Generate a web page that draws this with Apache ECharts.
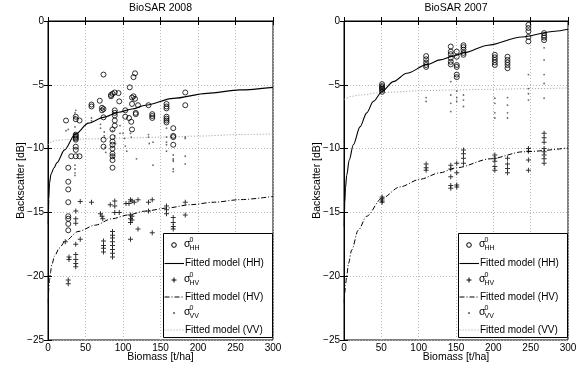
<!DOCTYPE html>
<html><head><meta charset="utf-8">
<script src="https://cdn.jsdelivr.net/npm/echarts@6/dist/echarts.min.js"></script>
<style>html,body{margin:0;padding:0;background:#fff}#c{width:585px;height:368px}</style>
</head><body><div id="c"></div>
<script>
const xTicks = [0, 50, 100, 150, 200, 250, 300];
const yTicks = [-25, -20, -15, -10, -5, 0];
const titles = ['BioSAR 2008', 'BioSAR 2007'];
const xName = 'Biomass [t/ha]';
const yName = 'Backscatter [dB]';
const fitLabels = ['Fitted model (HH)', 'Fitted model (HV)', 'Fitted model (VV)'];
const polSubs = ['HH', 'HV', 'VV'];

// ---- BioSAR 2008 ----
const hh2008 = [[24,-7.8],
 [27,-11.5],[27,-12.6],[27,-13.2],[27,-14.2],[27,-15.3],[27,-15.5],[27,-15.9],[27,-16.4],
 [31,-10.6],
 [37,-7.5],[37,-7.7],[37,-8.9],[37,-9.0],[37,-9.1],[37,-9.2],[37,-9.3],[37,-9.85],[37,-10.1],[37,-10.6],
 [42,-7.8],[42,-10.6],[58,-6.55],[58,-6.7],[69,-6.25],[72,-6.8],[72,-7.0],
 [74,-4.2],[74,-6.9],[74,-7.55],[74,-9.3],[74,-9.85],[84,-5.8],[84,-5.9],
 [86,-5.7],[86,-8.5],[86,-9.1],[86,-9.45],[86,-9.7],[86,-10.0],[86,-10.4],[86,-10.6],[86,-10.9],[86,-11.5],
 [89,-5.6],[89,-7.0],[89,-7.2],[89,-7.4],[89,-7.8],[89,-8.2],[94,-5.65],[95,-6.3],
 [103,-7.0],[103,-7.5],[108,-7.6],[109,-5.2],[112,-6.0],[112,-6.5],[111,-7.9],[112,-8.5],
 [114,-4.4],[114,-5.9],[116,-4.1],[116,-6.1],[117,-7.2],[117,-7.3],[120,-6.6],
 [134,-6.6],[139,-7.3],[139,-7.45],[139,-7.6],
 [158,-6.5],[158,-6.7],[158,-6.85],[158,-7.5],[158,-7.65],[158,-7.8],[158,-7.95],
 [167,-8.4],[167,-9.0],[167,-9.1],[167,-9.7],[183,-5.6],[183,-6.6]];
const hv2008 = [[23,-17.3],[28,-18.5],[28,-18.7],[27,-20.3],[27,-20.6],
 [37,-14.9],[37,-15.5],[37,-15.85],[37,-17.5],[37,-18.3],[37,-18.7],[37,-19.0],[37,-19.25],
 [43,-14.15],[43,-17.1],[58,-14.2],[70,-15.1],[72,-15.3],[73,-15.5],
 [74,-17.25],[74,-17.6],[74,-17.8],[74,-18.1],[83,-14.4],
 [86,-16.5],[86,-16.8],[86,-17.0],[86,-17.3],[86,-17.6],[86,-17.9],[86,-18.2],[86,-18.5],
 [89,-14.1],[89,-14.5],[89,-15.0],[95,-15.0],[104,-14.3],[108,-14.3],
 [110,-14.0],[110,-15.2],[110,-15.5],[110,-15.8],[110,-17.1],[112,-14.1],[112,-15.3],[112,-15.6],
 [115,-14.2],[120,-14.0],[120,-16.3],[134,-14.2],[134,-14.9],[139,-14.0],[139,-16.6],
 [158,-14.5],[158,-14.8],[158,-15.1],[167,-15.4],[167,-15.8],[167,-16.1],[167,-16.3],
 [183,-14.2],[183,-15.2]];
const vv2008 = [[24,-8.6],[27,-8.5],
 [36,-7.2],[36,-7.5],[36,-8.3],[36,-8.8],[36,-11.3],[36,-11.6],[36,-11.9],[36,-12.1],[37,-7.0],
 [58,-7.6],[58,-7.8],[70,-8.1],[70,-8.4],[75,-8.7],[75,-9.0],[76,-9.9],[77,-10.3],
 [86,-8.6],[86,-9.9],[86,-10.5],[87,-10.7],[89,-9.0],[90,-9.6],[96,-8.2],[96,-8.8],
 [100,-8.8],[102,-9.2],[103,-9.8],[105,-10.2],[110,-8.8],[111,-9.1],[118,-10.8],
 [134,-8.9],[134,-9.1],[135,-9.6],[140,-9.5],[140,-11.3],
 [158,-8.4],[158,-9.1],[158,-9.5],[158,-9.7],[158,-10.2],
 [167,-10.5],[167,-10.8],[167,-10.9],[167,-11.0],[167,-11.6],[167,-11.8],
 [183,-9.1],[183,-9.2],[183,-10.6],[183,-11.2]];
const fitHH2008 = [[0.4,-15.9],[1,-14.0],[2,-12.7],[4,-12.0],[8,-11.5],[12,-11.1],[22,-10.1],[36,-8.9],[54,-8.0],[74,-7.55],[94,-7.15],[112,-6.9],[130,-6.6],[167,-6.06],[212,-5.67],[256,-5.4],[300,-5.2]];
const fitHV2008 = [[0.4,-22.1],[1,-21.0],[2,-20.3],[3,-19.8],[5,-19.1],[9,-18.4],[15,-17.8],[23,-17.25],[40,-16.5],[63,-16.0],[85,-15.5],[107,-15.2],[129,-14.9],[160,-14.65],[189,-14.4],[222,-14.2],[256,-14.0],[300,-13.75]];
const fitVV2008 = [[0.4,-9.7],[2,-9.55],[5,-9.45],[10,-9.38],[23,-9.3],[50,-9.25],[100,-9.18],[150,-9.1],[200,-9.02],[256,-8.9],[300,-8.85]];

// ---- BioSAR 2007 ----
const hh2007 = [[51,-4.95],[51,-5.1],[51,-5.2],[51,-5.3],[51,-5.4],[51,-5.55],
 [110,-2.75],[110,-3.0],[110,-3.25],[110,-3.45],[110,-3.6],
 [143,-2.0],[143,-2.4],[143,-2.6],[143,-2.9],[143,-3.2],[143,-3.4],
 [151,-2.4],[151,-2.8],[151,-3.45],[151,-3.6],[151,-4.2],[151,-4.4],
 [160,-1.9],[160,-2.05],[160,-2.25],[160,-2.5],[160,-2.65],
 [202,-2.65],[202,-2.85],[202,-3.05],[202,-3.25],[202,-3.45],
 [219,-2.8],[219,-3.05],[219,-3.25],[219,-3.45],[219,-3.7],
 [247,-0.3],[247,-0.55],[247,-0.8],[247,-1.25],[247,-1.6],
 [268,-0.95],[268,-1.15],[268,-1.3],[268,-1.5]];
const hv2007 = [[51,-13.8],[51,-13.95],[51,-14.1],[51,-14.2],
 [110,-11.2],[110,-11.5],[110,-11.7],
 [143,-11.3],[143,-11.6],[143,-12.2],[143,-12.9],[143,-13.1],
 [151,-11.15],[151,-11.9],[151,-12.85],[151,-13.0],
 [160,-10.1],[160,-10.4],[160,-10.75],[160,-11.15],
 [202,-10.5],[202,-10.75],[202,-11.0],[202,-11.4],[202,-11.7],
 [219,-10.75],[219,-11.2],[219,-11.55],[219,-11.9],
 [247,-10.0],[247,-10.2],[247,-10.9],[247,-11.7],
 [268,-8.8],[268,-9.15],[268,-9.5],[268,-10.0],[268,-10.25],[268,-10.5],[268,-10.8],[268,-11.15]];
const vv2007 = [[51,-5.3],[51,-5.5],[110,-6.0],[110,-6.3],
 [143,-4.75],[143,-5.8],[143,-6.45],[143,-7.1],[151,-5.5],[151,-6.0],[151,-6.3],
 [160,-5.8],[160,-6.2],[160,-6.7],[202,-6.05],[202,-6.45],[202,-7.2],[202,-7.6],
 [219,-6.0],[219,-6.6],[219,-7.2],[219,-7.6],[247,-4.2],[247,-5.3],[247,-5.7],[247,-6.2],
 [268,-2.1],[268,-3.05],[268,-4.2],[268,-4.9],[268,-6.05]];
const fitHH2007 = [[0.3,-16.1],[1,-14.3],[2,-13.1],[3.6,-12.1],[7,-10.9],[12.5,-9.7],[21.4,-8.3],[30.4,-7.2],[39.3,-6.3],[51.3,-5.5],[66,-4.75],[84,-4.1],[111.6,-3.4],[128.6,-3.05],[146.4,-2.75],[160,-2.5],[193,-1.9],[238,-1.25],[282.6,-0.8],[300,-0.65]];
const fitHV2007 = [[0.3,-22.1],[1,-21.3],[2,-20.7],[3.6,-20.0],[6,-19.0],[10.3,-17.95],[19,-16.4],[30.4,-15.3],[50.5,-13.9],[75,-13.0],[102,-12.4],[128,-11.9],[151,-11.5],[196,-10.8],[240,-10.25],[300,-9.95]];
const fitVV2007 = [[0.3,-6.15],[3,-6.05],[10,-5.9],[21,-5.8],[51,-5.6],[111,-5.45],[150,-5.4],[200,-5.35],[250,-5.3],[300,-5.25]];

const FONT = '"Liberation Sans", Arial, Helvetica, sans-serif';
const panels = [
  {title: titles[0], hh: hh2008, hv: hv2008, vv: vv2008, fhh: fitHH2008, fhv: fitHV2008, fvv: fitVV2008},
  {title: titles[1], hh: hh2007, hv: hv2007, vv: vv2007, fhh: fitHH2007, fhv: fitHV2007, fvv: fitVV2007}
];
const layout = [{left: 48, width: 225}, {left: 344, width: 224}];
const TOP = 21, HEIGHT = 319;
const PLUS = 'path://M4,0H6V4H10V6H6V10H4V6H0V4H4Z';

const xMin = xTicks[0], xMax = xTicks[xTicks.length - 1], xInt = xTicks[1] - xTicks[0];
const yMin = yTicks[0], yMax = yTicks[yTicks.length - 1], yInt = yTicks[1] - yTicks[0];
const fmtY = v => v < 0 ? '\u2212' + (-v) : String(v);

const grids = [], xAxes = [], yAxes = [], series = [], titleOpts = [], graphics = [];
const tick = {inside: true, length: 4, lineStyle: {color: '#000'}};
const axLine = {show: true, lineStyle: {color: '#000', width: 1}};
const split = {show: true, lineStyle: {color: '#b8b8b8', type: [1, 2], width: 1}};

panels.forEach((p, i) => {
  const L = layout[i];
  grids.push({left: L.left, top: TOP, width: L.width, height: HEIGHT, show: true, borderColor: '#000', borderWidth: 1, backgroundColor: 'transparent'});
  titleOpts.push({text: p.title, left: L.left + L.width / 2, top: 3, textAlign: 'center', padding: 0,
    textStyle: {fontSize: 10.5, fontWeight: 'normal', color: '#000', fontFamily: FONT}});
  xAxes.push({gridIndex: i, type: 'value', min: xMin, max: xMax, interval: xInt, position: 'bottom',
    name: xName, nameLocation: 'middle', nameGap: 12, nameMoveOverlap: false,
    nameTextStyle: {fontSize: 10.5, color: '#000', fontFamily: FONT},
    axisLine: axLine, axisTick: tick, splitLine: split,
    axisLabel: {fontSize: 10, color: '#000', margin: 3, fontFamily: FONT}});
  xAxes.push({gridIndex: i, type: 'value', min: xMin, max: xMax, interval: xInt, position: 'top',
    axisLine: axLine, axisTick: tick, splitLine: {show: false}, axisLabel: {show: false}});
  yAxes.push({gridIndex: i, type: 'value', min: yMin, max: yMax, interval: yInt, position: 'left',
    name: yName, nameLocation: 'middle', nameGap: 21, nameRotate: 90, nameMoveOverlap: false,
    nameTextStyle: {fontSize: 10.5, color: '#000', fontFamily: FONT},
    axisLine: axLine, axisTick: tick, splitLine: split,
    axisLabel: {fontSize: 10, color: '#000', margin: 4, formatter: fmtY, fontFamily: FONT}});
  yAxes.push({gridIndex: i, type: 'value', min: yMin, max: yMax, interval: yInt, position: 'right',
    axisLine: axLine, axisTick: tick, splitLine: {show: false}, axisLabel: {show: false}});
  const xi = i * 2, yi = i * 2;
  const base = {xAxisIndex: xi, yAxisIndex: yi, animation: false, silent: true};
  series.push(Object.assign({type: 'line', data: p.fvv, showSymbol: false, smooth: 0.3, smoothMonotone: 'x',
    lineStyle: {color: '#9a9a9a', width: 1, type: [1, 2]}, z: 2}, base));
  series.push(Object.assign({type: 'scatter', data: p.vv, symbol: 'circle', symbolSize: 1.8,
    itemStyle: {color: '#444'}, z: 3}, base));
  series.push(Object.assign({type: 'line', data: p.fhv, showSymbol: false, smooth: 0.3, smoothMonotone: 'x',
    lineStyle: {color: '#000', width: 1, type: [5, 2, 1, 2]}, z: 2}, base));
  series.push(Object.assign({type: 'scatter', data: p.hv, symbol: PLUS, symbolSize: 5,
    itemStyle: {color: '#000'}, z: 3}, base));
  series.push(Object.assign({type: 'line', data: p.fhh, showSymbol: false, smooth: 0.3, smoothMonotone: 'x',
    lineStyle: {color: '#000', width: 1.1, type: 'solid'}, z: 2}, base));
  series.push(Object.assign({type: 'scatter', data: p.hh, symbol: 'circle', symbolSize: 5,
    itemStyle: {color: 'rgba(0,0,0,0)', borderColor: '#000', borderWidth: 1}, z: 4}, base));

  // legend box (drawn as graphics)
  const right = L.left + L.width;
  const bx = right - 110, by = 233, bw = 110, bh = 104;
  const Z = 100;
  const txt = (t, x, y, size) => ({type: 'text', z: Z, style: {text: t, x: x, y: y, fill: '#000',
    fontSize: size, fontFamily: FONT, verticalAlign: 'middle', align: 'left'}});
  const sigRows = [245, 280, 313];
  const fitRows = [263.5, 297, 330];
  graphics.push({type: 'rect', z: Z, shape: {x: bx + 0.5, y: by + 0.5, width: bw - 1, height: bh},
    style: {fill: '#fff', stroke: '#000', lineWidth: 1}});
  const mx = bx + 11;
  graphics.push({type: 'circle', z: Z, shape: {cx: mx, cy: sigRows[0], r: 2.3}, style: {fill: 'none', stroke: '#000', lineWidth: 1}});
  graphics.push({type: 'line', z: Z, shape: {x1: mx - 2.5, y1: sigRows[1], x2: mx + 2.5, y2: sigRows[1]}, style: {stroke: '#000', lineWidth: 1}});
  graphics.push({type: 'line', z: Z, shape: {x1: mx, y1: sigRows[1] - 2.5, x2: mx, y2: sigRows[1] + 2.5}, style: {stroke: '#000', lineWidth: 1}});
  graphics.push({type: 'circle', z: Z, shape: {cx: mx, cy: sigRows[2], r: 0.9}, style: {fill: '#444'}});
  const lineStyles = [{stroke: '#000', lineWidth: 1.1}, {stroke: '#000', lineWidth: 1, lineDash: [5, 2, 1, 2]}, {stroke: '#9a9a9a', lineWidth: 1, lineDash: [1, 2]}];
  for (let k = 0; k < 3; k++) {
    graphics.push(txt('\u03c3', bx + 21, sigRows[k] - 0.5, 10.5));
    graphics.push(txt('0', bx + 26.5, sigRows[k] - 4.5, 7));
    graphics.push(txt(polSubs[k], bx + 26.5, sigRows[k] + 3.5, 7));
    graphics.push({type: 'line', z: Z, shape: {x1: bx + 1.5, y1: fitRows[k], x2: bx + 21, y2: fitRows[k]}, style: lineStyles[k]});
    graphics.push(txt(fitLabels[k], bx + 22, fitRows[k], 10));
  }
});

const chart = echarts.init(document.getElementById('c'), null, {renderer: 'canvas'});
chart.setOption({
  animation: false,
  backgroundColor: '#fff',
  textStyle: {fontFamily: FONT},
  title: titleOpts,
  grid: grids,
  xAxis: xAxes,
  yAxis: yAxes,
  series: series,
  graphic: graphics
});
</script>
</body></html>
